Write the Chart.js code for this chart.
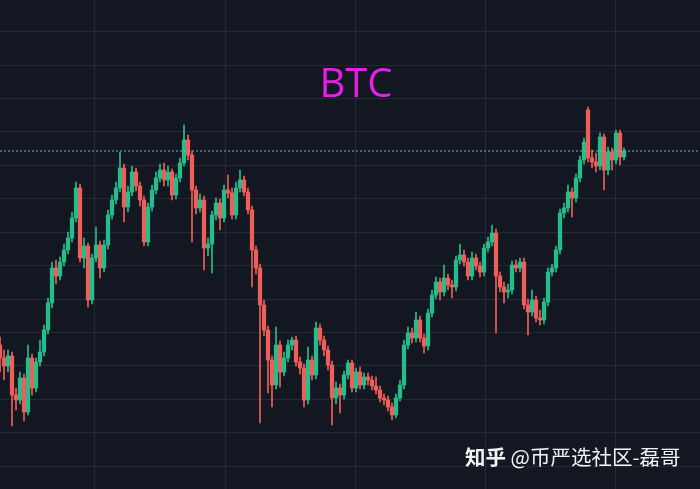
<!DOCTYPE html>
<html>
<head>
<meta charset="utf-8">
<script src="https://cdn.jsdelivr.net/npm/chart.js@4"></script>
<style>
  html, body { margin: 0; padding: 0; background: #131722; }
  #wrap { position: relative; width: 700px; height: 489px; overflow: hidden; }
  #title {
    position: absolute; top: 62px; left: 356px; transform: translateX(-50%);
    font: 40px/40px "Open Sans", sans-serif; color: #e41fe6; white-space: nowrap;
  }
  #mark {
    position: absolute; top: 446px; left: 465px;
    font: 20.5px/20px "Noto Sans CJK SC", sans-serif; color: #f2f2f2; white-space: nowrap;
  }
  #mark b { font-weight: 700; }
</style>
</head>
<body>
<div id="wrap">
  <canvas id="chart" width="700" height="489"></canvas>
  <div id="title">BTC</div>
  <div id="mark"><b>知乎</b> @币严选社区-磊哥</div>
</div>
<script>
// BTC price, thousand USD per candle
const open = [28.8,26.2,24.6,26.6,18.8,17.8,22.2,15.4,26.2,20.2,
  25.4,27.4,31.8,37.2,44.2,42.6,45.4,47.8,50.2,54.2,
  60.2,46.2,48.6,37.8,46.2,48.8,44.2,48.8,54.8,57.8,
  60.2,64.2,56.4,59.4,63.4,60.6,57.8,49.4,56.4,59.8,
  62.2,63.8,61.8,63.4,58.8,62.2,65.2,69.8,66.8,59.8,
  56.2,57.8,48.2,49.0,54.8,57.2,54.2,59.8,59.2,54.8,
  60.2,61.8,59.4,55.8,47.8,44.2,36.8,31.8,25.8,20.8,
  28.8,23.4,26.2,28.8,29.8,25.4,24.2,17.8,25.8,22.8,
  32.2,29.8,27.8,24.8,18.2,20.2,18.8,22.8,25.2,20.2,
  23.4,20.8,22.4,21.8,20.6,19.8,18.2,17.8,16.4,14.8,
  18.2,20.8,28.8,31.2,30.2,33.8,30.2,28.6,35.2,38.8,
  41.4,39.4,42.2,40.8,40.4,45.8,46.8,45.4,42.6,46.2,
  44.6,43.4,48.2,49.4,51.2,42.6,40.4,39.4,39.8,44.8,
  44.2,45.4,36.8,35.4,37.8,34.2,33.8,37.4,43.4,44.2,
  47.8,55.2,56.2,59.4,58.2,62.2,65.8,75.8,66.2,65.4,
  64.6,70.4,63.8,67.4,65.8,71.2,66.4];

const close = [26.2,24.6,26.6,18.8,17.8,22.2,15.4,26.2,20.2,25.4,
  27.4,31.8,37.2,44.2,42.6,45.4,47.8,50.2,54.2,60.2,
  46.2,48.6,37.8,46.2,48.8,44.2,48.8,54.8,57.8,60.2,
  64.2,56.4,59.4,63.4,60.6,57.8,49.4,56.4,59.8,62.2,
  63.8,61.8,63.4,58.8,62.2,65.2,69.8,66.8,59.8,56.2,
  57.8,48.2,49.0,54.8,57.2,54.2,59.8,59.2,54.8,60.2,
  61.8,59.4,55.8,47.8,44.2,36.8,31.8,25.8,20.8,28.8,
  23.4,26.2,28.8,29.8,25.4,24.2,17.8,25.8,22.8,32.2,
  29.8,27.8,24.8,18.2,20.2,18.8,22.8,25.2,20.2,23.4,
  20.8,22.4,21.8,20.6,19.8,18.2,17.8,16.4,14.8,18.2,
  20.8,28.8,31.2,30.2,33.8,30.2,28.6,35.2,38.8,41.4,
  39.4,42.2,40.8,40.4,45.8,46.8,45.4,42.6,46.2,44.6,
  43.4,48.2,49.4,51.2,42.6,40.4,39.4,39.8,44.8,44.2,
  45.4,36.8,35.4,37.8,34.2,33.8,37.4,43.4,44.2,47.8,
  55.2,56.2,59.4,58.2,62.2,65.8,69.4,66.2,65.4,64.6,
  70.4,63.8,67.4,65.8,71.2,66.4,67.6];

const high = [30.4,27.8,27.8,27.4,20.2,23.4,23.0,28.8,27.0,26.2,
  29.8,32.8,38.2,45.4,45.8,46.4,49.0,51.4,55.4,61.4,
  61.0,50.2,49.2,47.0,52.4,49.6,49.8,55.8,58.8,61.4,
  67.4,65.0,60.6,64.6,64.2,61.4,58.6,57.2,60.8,63.4,
  65.0,65.2,64.6,64.0,63.0,66.2,72.8,70.8,67.6,60.6,
  59.0,58.6,50.2,55.6,58.2,58.0,60.8,62.8,60.2,61.4,
  63.8,62.6,60.2,56.6,48.6,45.0,37.8,32.6,26.6,32.4,
  29.6,27.4,29.8,30.4,30.6,26.4,25.0,28.4,26.6,33.4,
  33.0,30.6,28.6,25.6,21.4,21.0,23.6,25.8,25.8,24.2,
  24.4,23.2,23.2,22.6,22.4,20.6,19.0,18.6,17.2,19.0,
  21.8,29.8,32.4,32.2,35.4,34.6,31.0,36.0,39.8,42.4,
  42.2,44.8,43.0,41.8,46.6,49.0,47.8,46.2,47.4,47.0,
  45.4,49.0,50.4,52.8,52.0,43.4,41.4,41.0,45.6,45.8,
  46.2,46.2,38.0,39.8,38.6,35.8,38.2,44.2,45.0,48.6,
  56.0,57.2,60.8,60.2,63.0,66.6,70.2,76.4,67.8,67.2,
  71.2,71.0,68.4,68.2,71.8,71.8,68.2];

const low = [23.4,21.8,23.4,12.6,15.8,17.0,13.6,14.8,18.8,19.4,
  24.6,26.6,31.0,36.2,41.0,41.8,44.6,47.0,49.4,53.4,
  45.4,44.2,36.4,37.0,45.4,42.2,43.4,48.0,54.0,57.0,
  59.4,53.4,55.4,58.6,59.6,56.6,48.6,48.6,55.6,59.0,
  61.4,60.6,60.6,57.8,58.0,61.4,64.6,65.8,49.4,55.0,
  55.4,43.8,46.6,43.2,53.8,51.8,53.4,58.2,54.0,54.0,
  59.4,58.6,55.0,40.4,43.0,13.2,30.6,19.2,16.4,20.0,
  20.4,22.6,25.4,27.8,24.6,23.0,16.4,17.0,21.8,22.0,
  28.8,26.6,23.8,12.8,17.0,15.2,18.0,22.0,19.4,19.4,
  20.0,20.0,20.8,19.8,19.0,17.4,16.8,15.6,13.8,14.2,
  17.6,20.0,28.0,29.2,29.4,29.4,27.2,27.8,34.4,38.0,
  37.8,38.6,39.8,38.2,39.6,45.0,44.6,41.8,41.8,43.8,
  42.4,42.6,47.4,48.6,31.2,39.4,37.2,38.2,39.0,43.4,
  43.4,36.0,30.8,34.6,33.4,32.8,33.0,36.6,42.6,43.4,
  47.0,54.2,55.4,54.4,57.4,61.4,65.0,65.4,64.2,63.4,
  63.8,59.8,62.8,63.8,65.0,64.8,65.8];

const lastPrice = close[close.length - 1];

const UP = '#26bd8c';
const DOWN = '#ef5f5a';
const GRID = '#242936';

const idx = close.map((_, i) => i);
const colors = idx.map((i) => (close[i] >= open[i] ? UP : DOWN));

// grid positions (chart units)
const yGrid = [4.6, 11.28, 17.96, 24.64, 31.32, 38.0, 44.68, 51.36, 58.04, 64.72, 71.4, 78.08, 84.76, 91.44];
const xGrid = [23.75, 56.25, 88.75, 121.25, 153.75];

new Chart(document.getElementById('chart').getContext('2d'), {
  data: {
    datasets: [
      {
        type: 'line',
        data: [{ x: 0, y: lastPrice }, { x: 175, y: lastPrice }],
        borderColor: '#4fc4c4',
        borderWidth: 1,
        borderDash: [2, 2],
        pointRadius: 0,
        order: 0,
      },
      {
        type: 'bar',
        data: idx.map((i) => ({ x: i, y: [low[i], high[i]] })),
        backgroundColor: colors,
        barThickness: 1,
        grouped: false,
        order: 2,
      },
      {
        type: 'bar',
        data: idx.map((i) => ({ x: i, y: [open[i], close[i]] })),
        backgroundColor: colors,
        barThickness: 3.6,
        grouped: false,
        order: 1,
      },
    ],
  },
  options: {
    responsive: false,
    animation: false,
    events: [],
    layout: { padding: 0 },
    plugins: { legend: { display: false }, tooltip: { enabled: false } },
    scales: {
      x: {
        type: 'linear',
        min: 0,
        max: 175,
        offset: false,
        ticks: { display: false },
        border: { display: false },
        grid: { color: GRID, drawTicks: false, offset: false },
        afterBuildTicks: (s) => { s.ticks = xGrid.map((v) => ({ value: v })); },
      },
      y: {
        type: 'linear',
        min: 0,
        max: 97.8,
        ticks: { display: false },
        border: { display: false },
        grid: { color: GRID, drawTicks: false },
        afterBuildTicks: (s) => { s.ticks = yGrid.map((v) => ({ value: v })); },
      },
    },
  },
});
</script>
</body>
</html>
